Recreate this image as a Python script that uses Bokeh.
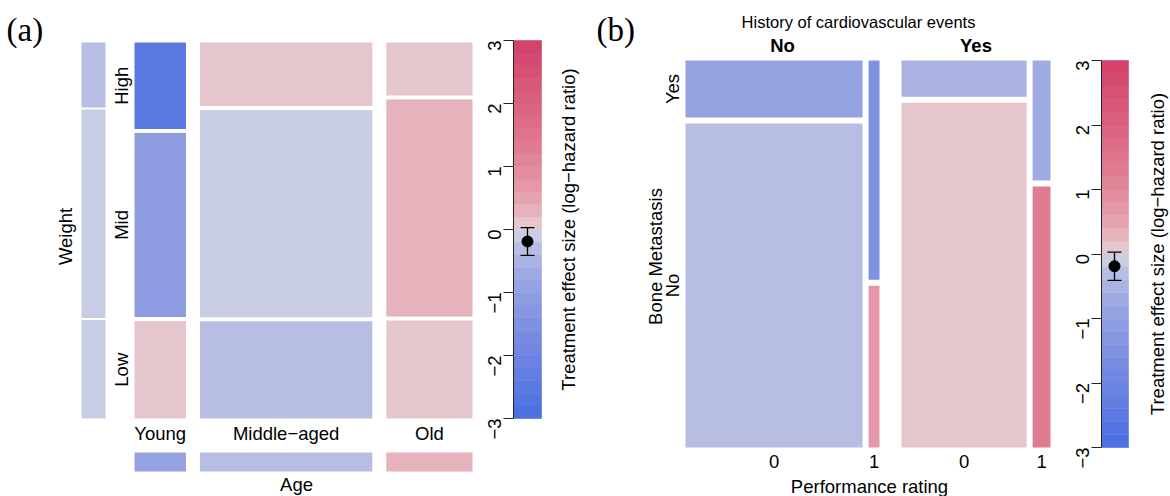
import math
import numpy as np
from bokeh.plotting import figure
from bokeh.layouts import row
from bokeh.models import ColumnDataSource, LinearColorMapper, LinearAxis, FixedTicker, Range1d
from bokeh.transform import transform
from bokeh.core.properties import value
from bokeh.embed import file_html
from bokeh.resources import INLINE

# ---------------- data ----------------
age_levels = ["Young", "Middle\u2212aged", "Old"]
weight_levels = ["High", "Mid", "Low"]
# counts per age group, for weight High / Mid / Low
counts_young = [39, 83, 44]
counts_middle = [96, 313, 147]
counts_old = [40, 164, 74]
# treatment effect (log-hazard ratio) per cell
eff_young = [-2.5, -1.1, 0.1]
eff_middle = [0.1, -0.1, -0.3]
eff_old = [0.1, 0.3, 0.1]
eff_age_marginal = [-0.9, -0.3, 0.3]
eff_weight_marginal = [-0.3, -0.1, -0.1]

history_levels = ["No", "Yes"]
perf_levels = ["0", "1"]
bone_levels = ["Yes", "No"]
# counts [performance 0 / 1][bone metastasis Yes / No]
counts_hist_no = [[80, 455], [19, 14]]
counts_hist_yes = [[36, 342], [17, 37]]
eff_hist_no = [[-0.9, -0.3], [-1.5, 0.7]]
eff_hist_yes = [[-0.5, 0.1], [-0.7, 1.3]]

overall_effect = -0.19
overall_lower = -0.41
overall_upper = 0.03
cbar_ticks = [-3, -2, -1, 0, 1, 2, 3]
cbar_title = "Treatment effect size (log\u2212hazard ratio)"

FONT = "Liberation Sans"
SERIF = "Liberation Serif"
FS = "18.5px"


# ---------------- palette (diverging HCL, blue-red) ----------------
def hcl_to_hex(L, C, H):
    Xn, Yn, Zn = 95.047, 100.0, 108.883
    den = Xn + 15 * Yn + 3 * Zn
    un, vn = 4 * Xn / den, 9 * Yn / den
    h = math.radians(H)
    u, v = C * math.cos(h), C * math.sin(h)
    Y = Yn * ((L + 16) / 116) ** 3 if L > 8 else Yn * L / 903.3
    up = u / (13 * L) + un
    vp = v / (13 * L) + vn
    X = Y * 9 * up / (4 * vp)
    Z = Y * (12 - 3 * up - 20 * vp) / (4 * vp)
    X, Y, Z = X / 100, Y / 100, Z / 100
    r = 3.240479 * X - 1.537150 * Y - 0.498535 * Z
    g = -0.969256 * X + 1.875992 * Y + 0.041556 * Z
    b = 0.055648 * X - 0.204043 * Y + 1.057311 * Z

    def gam(c):
        c = max(0.0, min(1.0, c))
        return 12.92 * c if c <= 0.0031308 else 1.055 * c ** (1 / 2.4) - 0.055

    return "#%02x%02x%02x" % tuple(int(round(255 * gam(c))) for c in (r, g, b))


NBIN = 30
edges = np.linspace(-3, 3, NBIN + 1)
mids = (edges[:-1] + edges[1:]) / 2
palette = []
for m in mids:
    s = (abs(m) / 3) ** 0.5
    palette.append(hcl_to_hex(90 - 40 * s, 100 * s, 260 if m < 0 else 0))
mapper = LinearColorMapper(palette=palette, low=-3, high=3)


def base_fig(w, xr, yr, left=0):
    p = figure(width=w, height=496, x_range=xr, y_range=yr,
               toolbar_location=None, output_backend="svg",
               x_axis_location=None, y_axis_location=None,
               min_border_left=left, min_border_right=0,
               min_border_top=0, min_border_bottom=0)
    p.grid.visible = False
    p.outline_line_color = None
    p.background_fill_color = "white"
    p.border_fill_color = "white"
    return p


def add_text(p, xs, ys, texts, angle=0.0, size=FS, font=FONT, style="normal",
             align="center", baseline="middle"):
    p.text(x=xs, y=ys, text=texts, angle=angle, text_font=value(font),
           text_font_size=size, text_font_style=style, text_align=align,
           text_baseline=baseline, text_color="black")


# ================= panel (a) mosaic =================
A_L, A_R, A_T, A_B = 134, 472, 42, 418   # pixel frame of mosaic
A_W = 473
ax_ = lambda px: (px - A_L) / (A_R - A_L)
ay_ = lambda py: (A_B - py) / (A_B - A_T)
fa = base_fig(A_W, Range1d(ax_(0), ax_(A_W)), Range1d(ay_(496), ay_(0)))

cnt = np.array([counts_young, counts_middle, counts_old], float)
eff = np.array([eff_young, eff_middle, eff_old], float)
gx = 14 / (A_R - A_L)
gy = 4 / (A_B - A_T)
col_tot = cnt.sum(axis=1)
availx = 1 - gx * (len(age_levels) - 1)
L_, R_, T_, B_, E_ = [], [], [], [], []
col_l, col_r = [], []
young_centers = []
x = 0.0
for i in range(len(age_levels)):
    w = col_tot[i] / cnt.sum() * availx
    col_l.append(x)
    col_r.append(x + w)
    availy = 1 - gy * (len(weight_levels) - 1)
    y = 1.0
    for j in range(len(weight_levels)):
        h = cnt[i, j] / col_tot[i] * availy
        L_.append(x); R_.append(x + w); T_.append(y); B_.append(y - h); E_.append(eff[i, j])
        if i == 0:
            young_centers.append(y - h / 2)
        y -= h + gy
    x += w + gx
srcA = ColumnDataSource(dict(l=L_, r=R_, t=T_, b=B_, e=E_))
fa.quad(left="l", right="r", top="t", bottom="b", source=srcA,
        fill_color=transform("e", mapper), line_color=None)

# weight marginal strip
w_tot = cnt.sum(axis=0)
gyw = 2 / (A_B - A_T)
availw = 1 - gyw * (len(weight_levels) - 1)
wl, wr, wt, wb = [], [], [], []
y = 1.0
for j in range(len(weight_levels)):
    h = w_tot[j] / w_tot.sum() * availw
    wl.append(ax_(81)); wr.append(ax_(105)); wt.append(y); wb.append(y - h)
    y -= h + gyw
srcW = ColumnDataSource(dict(l=wl, r=wr, t=wt, b=wb, e=eff_weight_marginal))
fa.quad(left="l", right="r", top="t", bottom="b", source=srcW,
        fill_color=transform("e", mapper), line_color=None)

# age marginal strip
srcG = ColumnDataSource(dict(l=col_l, r=col_r, t=[ay_(452)] * 3, b=[ay_(471)] * 3,
                             e=eff_age_marginal))
fa.quad(left="l", right="r", top="t", bottom="b", source=srcG,
        fill_color=transform("e", mapper), line_color=None)

col_c = [(a + b) / 2 for a, b in zip(col_l, col_r)]
add_text(fa, col_c, [ay_(433)] * 3, age_levels)
add_text(fa, [ax_(121)] * 3, young_centers, weight_levels, angle=math.pi / 2)
add_text(fa, [ax_(65)], [ay_(236)], ["Weight"], angle=math.pi / 2)
add_text(fa, [ax_(296)], [ay_(484)], ["Age"])
add_text(fa, [ax_(6)], [ay_(29)], ["(a)"], size="33px", font=SERIF, align="left")


# ================= colorbar figure =================
def colorbar_fig(w, left, bar_w, y3, ym3, pt_x, title_x):
    k = (ym3 - y3) / 6.0
    yr = Range1d(3 - (496 - y3) / k, 3 + y3 / k)
    p = base_fig(w, Range1d(0, w - left), yr, left=left)
    src = ColumnDataSource(dict(b=edges[:-1], t=edges[1:], m=mids))
    p.quad(left=0, right=bar_w, bottom="b", top="t", source=src,
           fill_color=transform("m", mapper), line_color=transform("m", mapper),
           line_width=0.6)
    axis = LinearAxis(ticker=FixedTicker(ticks=cbar_ticks), bounds=(-3, 3))
    axis.major_label_overrides = {t: (str(t) if t >= 0 else "\u2212" + str(-t)) for t in cbar_ticks}
    axis.major_tick_out = 10
    axis.major_tick_in = 0
    axis.minor_tick_out = 0
    axis.minor_tick_in = 0
    axis.axis_line_color = "#222222"
    axis.major_tick_line_color = "#222222"
    axis.major_label_orientation = math.pi / 2
    axis.major_label_text_font = FONT
    axis.major_label_text_font_size = FS
    axis.major_label_text_color = "black"
    axis.major_label_standoff = 9
    p.add_layout(axis, "left")
    p.segment(x0=[pt_x], y0=[overall_lower], x1=[pt_x], y1=[overall_upper],
              line_color="black", line_width=1.3)
    p.segment(x0=[pt_x - 7, pt_x - 7], y0=[overall_lower, overall_upper],
              x1=[pt_x + 7, pt_x + 7], y1=[overall_lower, overall_upper],
              line_color="black", line_width=1.3)
    p.scatter(x=[pt_x], y=[overall_effect], size=11, fill_color="black", line_color="black")
    add_text(p, [title_x], [0], [cbar_title], angle=math.pi / 2)
    return p


ca = colorbar_fig(590 - A_W, 513 - A_W, 28, 40, 418, 14, 55)


# ================= panel (b) mosaic =================
B_L, B_R, B_T, B_B = 685, 1050, 60, 447
B_X0, B_X1 = 590, 1061
bx_ = lambda px: (px - B_L) / (B_R - B_L)
by_ = lambda py: (B_B - py) / (B_B - B_T)
fb = base_fig(B_X1 - B_X0, Range1d(bx_(B_X0), bx_(B_X1)), Range1d(by_(496), by_(0)))

cntB = np.array([counts_hist_no, counts_hist_yes], float)   # [hist][perf][bone]
effB = np.array([eff_hist_no, eff_hist_yes], float)
ggap = 22 / (B_R - B_L)
igap = 6 / (B_R - B_L)
rgap = 6 / (B_B - B_T)
availx = 1 - ggap * (len(history_levels) - 1) - igap * len(history_levels) * (len(perf_levels) - 1)
total = cntB.sum()
L_, R_, T_, B_, E_ = [], [], [], [], []
grp_c, perf_c, first_col_centers = [], [], []
x = 0.0
for g in range(len(history_levels)):
    gx0 = x
    for k in range(len(perf_levels)):
        ctot = cntB[g, k].sum()
        w = ctot / total * availx
        y = 1.0
        for j in range(len(bone_levels)):
            h = cntB[g, k, j] / ctot * (1 - rgap * (len(bone_levels) - 1))
            L_.append(x); R_.append(x + w); T_.append(y); B_.append(y - h); E_.append(effB[g, k, j])
            if g == 0 and k == 0:
                first_col_centers.append(y - h / 2)
            y -= h + rgap
        perf_c.append(x + w / 2)
        x += w
        if k < len(perf_levels) - 1:
            x += igap
    grp_c.append((gx0 + x) / 2)
    x += ggap
srcB = ColumnDataSource(dict(l=L_, r=R_, t=T_, b=B_, e=E_))
fb.quad(left="l", right="r", top="t", bottom="b", source=srcB,
        fill_color=transform("e", mapper), line_color=None)

add_text(fb, perf_c, [by_(461)] * len(perf_c), perf_levels * len(history_levels))
add_text(fb, grp_c, [by_(45)] * 2, history_levels, style="bold")
add_text(fb, [bx_(672)] * 2, first_col_centers, bone_levels, angle=math.pi / 2)
add_text(fb, [bx_(655)], [by_(256)], ["Bone Metastasis"], angle=math.pi / 2)
add_text(fb, [bx_(858)], [by_(21)], ["History of cardiovascular events"], size="16.5px")
add_text(fb, [bx_(869)], [by_(486)], ["Performance rating"])
add_text(fb, [bx_(596)], [by_(29)], ["(b)"], size="33px", font=SERIF, align="left")

cb = colorbar_fig(1170 - B_X1, 1101 - B_X1, 27, 60, 447, 13, 56)

layout = row(fa, ca, fb, cb)
open("out.html", "w").write(file_html(layout, INLINE))
